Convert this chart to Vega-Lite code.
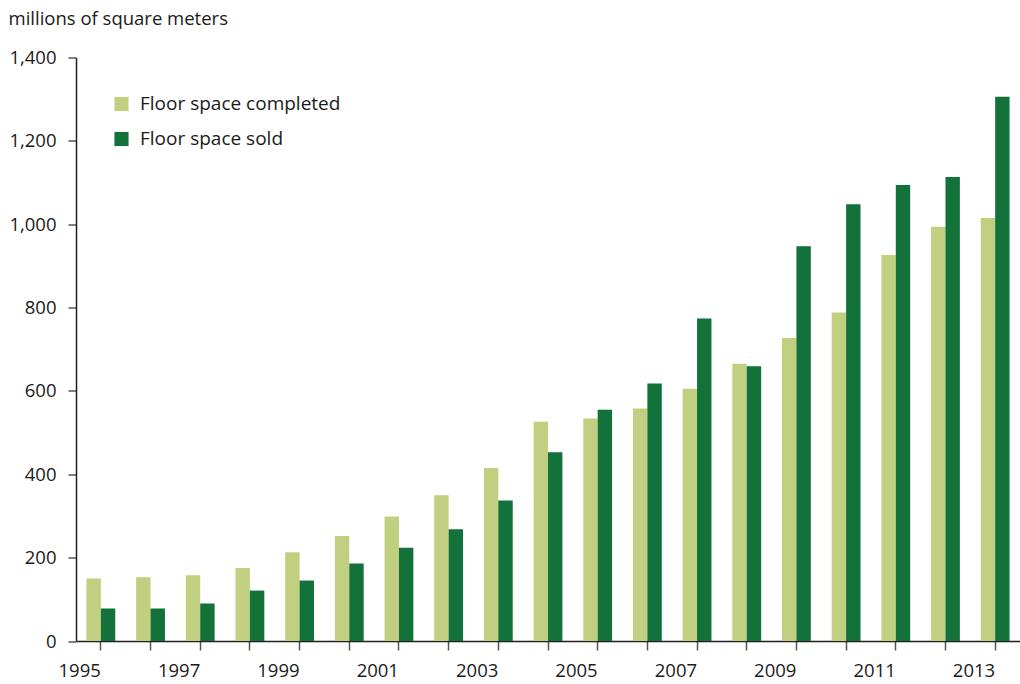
{
  "$schema": "https://vega.github.io/schema/vega-lite/v6.json",
  "width": 944,
  "height": 583.5,
  "autosize": {"type": "none"},
  "padding": {"left": 76, "top": 57.5, "right": 0, "bottom": 43.5},
  "background": "white",
  "config": {
    "view": {"stroke": null},
    "font": "Open Sans"
  },
  "data": {
    "values": [
      {"year": 1995, "series": "Floor space completed", "value": 150},
      {"year": 1995, "series": "Floor space sold", "value": 78},
      {"year": 1996, "series": "Floor space completed", "value": 153},
      {"year": 1996, "series": "Floor space sold", "value": 78},
      {"year": 1997, "series": "Floor space completed", "value": 158},
      {"year": 1997, "series": "Floor space sold", "value": 90},
      {"year": 1998, "series": "Floor space completed", "value": 175},
      {"year": 1998, "series": "Floor space sold", "value": 121},
      {"year": 1999, "series": "Floor space completed", "value": 213},
      {"year": 1999, "series": "Floor space sold", "value": 145},
      {"year": 2000, "series": "Floor space completed", "value": 252},
      {"year": 2000, "series": "Floor space sold", "value": 186},
      {"year": 2001, "series": "Floor space completed", "value": 299},
      {"year": 2001, "series": "Floor space sold", "value": 224},
      {"year": 2002, "series": "Floor space completed", "value": 350},
      {"year": 2002, "series": "Floor space sold", "value": 268},
      {"year": 2003, "series": "Floor space completed", "value": 415},
      {"year": 2003, "series": "Floor space sold", "value": 337},
      {"year": 2004, "series": "Floor space completed", "value": 526},
      {"year": 2004, "series": "Floor space sold", "value": 453},
      {"year": 2005, "series": "Floor space completed", "value": 534},
      {"year": 2005, "series": "Floor space sold", "value": 555},
      {"year": 2006, "series": "Floor space completed", "value": 558},
      {"year": 2006, "series": "Floor space sold", "value": 618},
      {"year": 2007, "series": "Floor space completed", "value": 605},
      {"year": 2007, "series": "Floor space sold", "value": 774},
      {"year": 2008, "series": "Floor space completed", "value": 665},
      {"year": 2008, "series": "Floor space sold", "value": 659},
      {"year": 2009, "series": "Floor space completed", "value": 727},
      {"year": 2009, "series": "Floor space sold", "value": 947},
      {"year": 2010, "series": "Floor space completed", "value": 788},
      {"year": 2010, "series": "Floor space sold", "value": 1048},
      {"year": 2011, "series": "Floor space completed", "value": 926},
      {"year": 2011, "series": "Floor space sold", "value": 1094},
      {"year": 2012, "series": "Floor space completed", "value": 994},
      {"year": 2012, "series": "Floor space sold", "value": 1113},
      {"year": 2013, "series": "Floor space completed", "value": 1015},
      {"year": 2013, "series": "Floor space sold", "value": 1306}
    ]
  },
  "mark": {"type": "bar"},
  "encoding": {
    "x": {
      "field": "year",
      "type": "ordinal",
      "scale": {"paddingInner": 0.42, "paddingOuter": 0.21},
      "axis": {
        "title": null,
        "labelAngle": 0,
        "labelExpr": "toNumber(datum.value) % 2 == 1 ? datum.label : ''",
        "labelAlign": "right",
        "labelFont": "Open Sans",
        "labelFontSize": 18.5,
        "labelColor": "#1a1a1a",
        "labelPadding": 11,
        "tickSize": 9,
        "tickColor": "#555555",
        "tickWidth": 1.5,
        "domainColor": "#231f20",
        "domainWidth": 1.5,
        "grid": false
      }
    },
    "xOffset": {"field": "series", "type": "nominal", "scale": {"paddingInner": 0, "paddingOuter": 0}},
    "y": {
      "field": "value",
      "type": "quantitative",
      "scale": {"domain": [0, 1400], "nice": false},
      "axis": {
        "title": "millions of square meters",
        "titleAngle": 0,
        "titleAlign": "left",
        "titleBaseline": "alphabetic",
        "titleX": -68,
        "titleY": -33,
        "titleFont": "Open Sans",
        "titleFontSize": 18.5,
        "titleFontWeight": "normal",
        "titleColor": "#1a1a1a",
        "values": [0, 200, 400, 600, 800, 1000, 1200, 1400],
        "format": ",.0f",
        "labelFont": "Open Sans",
        "labelFontSize": 18.5,
        "labelColor": "#1a1a1a",
        "labelPadding": 12,
        "tickSize": 8,
        "tickColor": "#555555",
        "tickWidth": 1.5,
        "domainColor": "#231f20",
        "domainWidth": 1.5,
        "grid": false
      }
    },
    "color": {
      "field": "series",
      "type": "nominal",
      "scale": {
        "domain": ["Floor space completed", "Floor space sold"],
        "range": ["#c1cf80", "#13713a"]
      },
      "legend": {
        "title": null,
        "orient": "none",
        "legendX": 36,
        "legendY": 37,
        "symbolType": "square",
        "symbolSize": 200,
        "symbolStrokeWidth": 0,
        "labelFont": "Open Sans",
        "labelFontSize": 19,
        "labelColor": "#1a1a1a",
        "labelLimit": 0,
        "labelOffset": 9,
        "rowPadding": 15
      }
    }
  }
}
